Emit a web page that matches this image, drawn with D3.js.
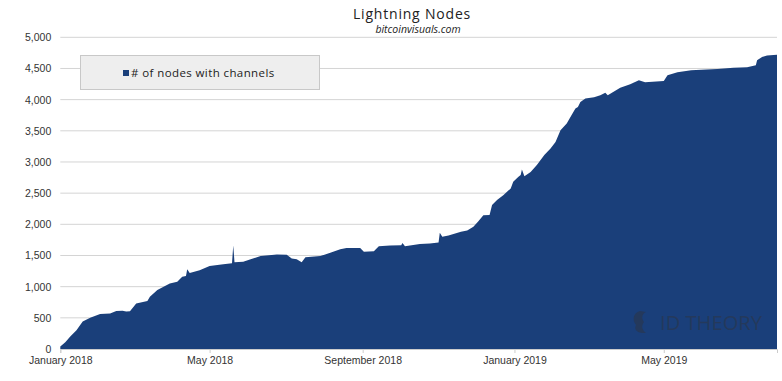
<!DOCTYPE html>
<html><head><meta charset="utf-8">
<script src="https://cdn.jsdelivr.net/npm/d3@7"></script>
<style>body{margin:0;background:#fff;} svg{display:block;font-family:"Open Sans",sans-serif;}</style>
</head><body>
<script>
const dates = ["2018-01-01","2018-01-05","2018-01-09","2018-01-14","2018-01-19","2018-01-25","2018-02-02","2018-02-10","2018-02-15","2018-02-20","2018-02-23","2018-02-26","2018-03-03","2018-03-12","2018-03-14","2018-03-20","2018-03-25","2018-03-30","2018-04-05","2018-04-09","2018-04-12","2018-04-13","2018-04-15","2018-04-23","2018-05-01","2018-05-12","2018-05-19","2018-05-20","2018-05-21","2018-05-28","2018-06-03","2018-06-11","2018-06-24","2018-07-02","2018-07-06","2018-07-10","2018-07-14","2018-07-17","2018-07-29","2018-08-06","2018-08-14","2018-08-19","2018-08-30","2018-09-02","2018-09-10","2018-09-14","2018-09-23","2018-10-02","2018-10-03","2018-10-05","2018-10-17","2018-10-25","2018-11-01","2018-11-02","2018-11-04","2018-11-09","2018-11-19","2018-11-24","2018-11-29","2018-12-03","2018-12-07","2018-12-12","2018-12-14","2018-12-18","2018-12-23","2018-12-29","2018-12-31","2019-01-04","2019-01-06","2019-01-07","2019-01-09","2019-01-14","2019-01-19","2019-01-25","2019-01-30","2019-02-03","2019-02-07","2019-02-12","2019-02-15","2019-02-19","2019-02-21","2019-02-23","2019-02-27","2019-03-06","2019-03-11","2019-03-15","2019-03-17","2019-03-27","2019-04-04","2019-04-11","2019-04-16","2019-05-01","2019-05-04","2019-05-12","2019-05-23","2019-05-31","2019-06-13","2019-06-26","2019-07-07","2019-07-14","2019-07-15","2019-07-19","2019-07-23","2019-07-31"];
const nodes = [40,110,200,300,440,500,560,570,610,615,600,605,730,770,840,945,1000,1050,1080,1160,1170,1280,1220,1265,1330,1360,1375,1660,1390,1400,1440,1490,1516,1510,1450,1440,1390,1470,1490,1545,1600,1620,1620,1560,1570,1650,1660,1665,1700,1650,1683,1694,1710,1865,1800,1820,1880,1900,1960,2050,2147,2150,2308,2390,2468,2575,2682,2760,2790,2878,2770,2840,2950,3110,3215,3322,3510,3617,3720,3857,3880,3963,4017,4040,4070,4110,4070,4190,4247,4310,4280,4300,4390,4440,4470,4480,4490,4510,4520,4550,4630,4685,4710,4720];
const yTicks = [0,500,1000,1500,2000,2500,3000,3500,4000,4500,5000];
const xTicks = ["2018-01-01","2018-05-01","2018-09-01","2019-01-01","2019-05-01"];
const seriesName = "# of nodes with channels";
const title = "Lightning Nodes";
const subtitle = "bitcoinvisuals.com";

const W = 782, H = 381;
const m = {l:60.3, r:5, t:37.3, b:32};
const parse = d3.timeParse("%Y-%m-%d");
const data = dates.map((d,i)=>({date:parse(d), v:nodes[i]}));

const svg = d3.select("body").append("svg").attr("width",W).attr("height",H);
const x = d3.scaleTime().domain([parse("2018-01-01"), parse("2019-07-31")]).range([m.l, W-m.r]);
const y = d3.scaleLinear().domain([0,5000]).range([H-m.b, m.t]);

// grid
svg.append("g").selectAll("line").data(yTicks.slice(1)).join("line")
  .attr("x1",m.l).attr("x2",W-m.r).attr("y1",d=>y(d)).attr("y2",d=>y(d))
  .attr("stroke","#d4d4d4").attr("stroke-width",1);

// y axis labels
const yAxis = d3.axisLeft(y).tickValues(yTicks).tickSize(0).tickPadding(9).tickFormat(d3.format(","));
const gy = svg.append("g").attr("transform",`translate(${m.l},0)`).call(yAxis);
gy.select(".domain").remove();
gy.selectAll("text").attr("fill","#333").style("font-size","10.5px");

// area
const area = d3.area().x(d=>x(d.date)).y0(y(0)).y1(d=>y(d.v)).curve(d3.curveLinear);
svg.append("path").datum(data).attr("d",area).attr("fill","#1a3f7a");

// x axis
const xAxis = d3.axisBottom(x).tickValues(xTicks.map(parse)).tickSize(4).tickPadding(4).tickFormat(d3.timeFormat("%B %Y"));
const gx = svg.append("g").attr("transform",`translate(0,${y(0)})`).call(xAxis);
gx.select(".domain").attr("stroke","#ccc");
gx.selectAll(".tick line").attr("stroke","#ccc");
gx.selectAll("text").attr("fill","#333").style("font-size","10.5px");

// watermark
const wm = svg.append("g").attr("fill","#24395c");
wm.append("path").attr("d","M640,311 C633,313 632,320 636,325 C634,329 636,332 642,333 L646,333 C642,330 641,326 644,322 C641,318 642,314 646,312 Z");
wm.append("text").attr("x",660).attr("y",330).text("ID THEORY")
  .attr("textLength",102).attr("lengthAdjust","spacingAndGlyphs")
  .style("font-size","20px").style("font-weight","400");

// title
svg.append("text").attr("x",412).attr("y",19).attr("text-anchor","middle").text(title)
  .attr("fill","#222").style("font-size","14px").style("letter-spacing","0.8px");
svg.append("text").attr("x",418).attr("y",33).attr("text-anchor","middle").text(subtitle)
  .attr("fill","#222").style("font-size","10.5px").style("font-style","italic");

// legend
const lg = svg.append("g");
lg.append("rect").attr("x",80.5).attr("y",55.5).attr("width",239).attr("height",34)
  .attr("fill","#eeeeee").attr("stroke","#c8c8c8");
lg.append("rect").attr("x",123).attr("y",70).attr("width",6).attr("height",6).attr("fill","#1a3f7a");
lg.append("text").attr("x",131).attr("y",77).text(seriesName).attr("fill","#222").style("font-size","11.5px").style("letter-spacing","0.4px");
</script>
</body></html>
